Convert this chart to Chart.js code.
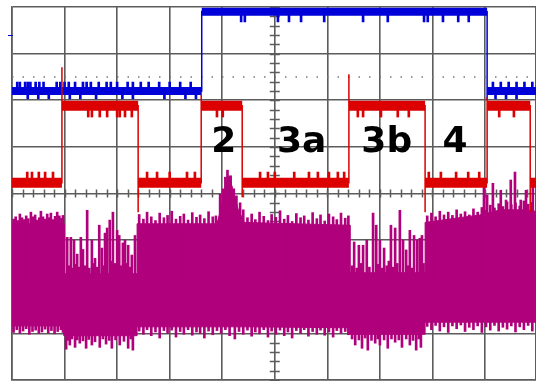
<!DOCTYPE html>
<html>
<head>
<meta charset="utf-8">
<script src="https://cdn.jsdelivr.net/npm/chart.js@4.4.1/dist/chart.umd.min.js"></script>
<style>
  html, body { margin: 0; padding: 0; background: #fff; }
  #wrap { width: 536px; height: 381px; position: relative; }
</style>
</head>
<body>
<div id="wrap"><canvas id="scope"></canvas></div>
<script>
// screen is 10 x 8 divisions, values are in divisions
const xMax = 9.97;

// channel 1 (blue)
const blueLow = 2.2, blueHigh = 3.9;
const blueEdges = [3.61, 9.04];
const blueTips = [3.92, 2.0];
const blueUpX = [0.1, 0.15, 0.25, 0.3, 0.35, 0.45, 0.52, 0.6, 0.85, 0.92, 1.0, 1.08, 1.2, 1.35, 1.42, 1.5, 1.65, 1.8, 1.88, 2.0, 2.2, 2.3, 2.45, 2.6, 2.8, 3.0, 3.2, 3.4, 9.15, 9.3, 9.45, 9.6, 9.75, 9.9];
const blueDownX = [0.3, 0.5, 0.7, 1.1, 1.3, 1.6, 2.1, 2.3, 2.9, 3.3, 3.5, 9.2, 9.4, 9.6];
const blueHighDownX = [4.36, 4.43, 5.06, 5.27, 5.5, 5.94, 6.68, 7.15, 7.84, 7.91, 8.2, 8.49, 8.69];

// channel 2 (red)
const redLow = 0.23, redHigh = 1.88;
const redEdges = [0.95, 2.40, 3.60, 4.38, 6.41, 7.86, 9.04, 9.86];
const redTips = [2.71, -0.40, 2.11, -0.08, 2.56, -0.40, 2.07, -0.40];
const redHighDownX = [1.45, 1.52, 1.67, 1.81, 2.0, 2.05, 2.15, 2.28, 3.9, 4.01, 6.58, 6.68, 7.02, 7.34, 7.55, 9.27, 9.55];
const redLowUpX = [0.29, 0.38, 0.51, 0.63, 0.78, 2.57, 2.76, 3.0, 3.33, 3.48, 4.72, 4.87, 5.0, 5.37, 5.65, 5.82, 6.03, 6.2, 6.32, 7.93, 8.16, 8.45, 8.68, 8.89];

// channel 3 (magenta) envelope
const magX      = [0, 0.99, 0.99, 2.38, 2.38, 3.90, 4.00, 4.08, 4.13, 4.20, 4.30, 4.42, 6.43, 6.43, 7.86, 7.86, 8.90, 9.30, 9.70, 9.97];
const magTop    = [-0.65, -0.65, -1.72, -1.72, -0.65, -0.65, -0.22, 0.2, 0.38, 0.1, -0.33, -0.62, -0.68, -1.70, -1.70, -0.62, -0.46, -0.35, -0.35, -0.38];
const magBottom = [-2.84, -2.84, -3.05, -3.05, -2.86, -2.86, -2.86, -2.86, -2.86, -2.86, -2.86, -2.86, -2.88, -3.02, -3.02, -2.76, -2.76, -2.76, -2.76, -2.76];

// magenta spikes [x, tip]
const magUpA = [[0.03,-0.55],[0.07,-0.50],[0.11,-0.58],[0.15,-0.44],[0.19,-0.52],[0.23,-0.56],[0.27,-0.48],[0.31,-0.54],[0.36,-0.40],[0.40,-0.50],[0.44,-0.46],[0.48,-0.57],[0.52,-0.52],[0.55,-0.38],[0.59,-0.50],[0.63,-0.55],[0.67,-0.44],[0.71,-0.52],[0.74,-0.42],[0.78,-0.56],[0.82,-0.49],[0.86,-0.40],[0.90,-0.48],[0.94,-0.53],[0.97,-0.47]];
const magUpB = [[1.05,-0.94],[1.08,-1.55],[1.12,-0.94],[1.15,-1.6],[1.18,-1.0],[1.21,-1.52],[1.24,-1.3],[1.28,-1.58],[1.31,-0.94],[1.35,-1.2],[1.39,-1.55],[1.43,-0.36],[1.47,-1.6],[1.52,-1.0],[1.55,-1.5],[1.58,-1.39],[1.62,-1.58],[1.66,-0.68],[1.71,-1.17],[1.74,-1.55],[1.77,-0.85],[1.81,-0.74],[1.86,-0.57],[1.89,-1.45],[1.92,-0.40],[1.96,-1.5],[2.00,-0.79],[2.04,-0.9],[2.08,-1.55],[2.11,-1.06],[2.15,-1.0],[2.18,-1.5],[2.21,-1.11],[2.25,-1.58],[2.28,-1.32],[2.34,-0.9]];
const magUpC = [[2.42,-0.45],[2.50,-0.55],[2.57,-0.40],[2.65,-0.50],[2.73,-0.58],[2.81,-0.42],[2.89,-0.52],[2.96,-0.47],[3.04,-0.38],[3.12,-0.55],[3.20,-0.49],[3.27,-0.44],[3.35,-0.57],[3.43,-0.41],[3.51,-0.51],[3.58,-0.46],[3.66,-0.54],[3.74,-0.39],[3.82,-0.50],[3.88,-0.48],
  [3.96,0.0],[4.02,0.1],[4.06,0.35],[4.10,0.5],[4.16,0.38],[4.22,0.1],[4.27,-0.05],[4.34,-0.2],[4.40,-0.35],
  [4.48,-0.52],[4.56,-0.44],[4.63,-0.56],[4.71,-0.40],[4.79,-0.49],[4.87,-0.58],[4.94,-0.45],[5.02,-0.51],[5.10,-0.37],[5.18,-0.55],[5.25,-0.47],[5.33,-0.60],[5.41,-0.43],[5.49,-0.52],[5.56,-0.48],[5.64,-0.57],[5.72,-0.41],[5.80,-0.54],[5.87,-0.46],[5.95,-0.59],[6.03,-0.44],[6.11,-0.50],[6.18,-0.56],[6.26,-0.42],[6.34,-0.53],[6.40,-0.48]];
const magUpD = [[6.47,-1.55],[6.51,-1.04],[6.56,-1.6],[6.60,-1.11],[6.64,-1.5],[6.68,-1.11],[6.75,-1.0],[6.80,-1.58],[6.87,-0.42],[6.93,-0.68],[6.97,-1.52],[7.00,-1.0],[7.04,-1.6],[7.08,-1.17],[7.13,-1.55],[7.17,-1.45],[7.21,-0.68],[7.25,-1.58],[7.29,-0.74],[7.33,-1.5],[7.38,-0.36],[7.44,-1.0],[7.50,-1.21],[7.53,-1.55],[7.57,-0.79],[7.61,-1.6],[7.65,-0.9],[7.71,-1.0],[7.76,-0.96],[7.80,-0.9],[7.83,-1.5]];
const magUpE = [[7.90,-0.48],[7.98,-0.42],[8.06,-0.50],[8.14,-0.38],[8.22,-0.46],[8.30,-0.40],[8.38,-0.47],[8.46,-0.35],[8.54,-0.44],[8.62,-0.39],[8.70,-0.46],[8.78,-0.33],[8.86,-0.40],[8.94,-0.30],[9.02,-0.36],[9.10,-0.25],[9.18,-0.31],[9.26,-0.22],[9.34,-0.28],[9.42,-0.18],[9.50,-0.24],[9.58,-0.20],[9.66,-0.27],[9.74,-0.16],[9.82,-0.23],[9.90,-0.19],
  [8.98,0.29],[9.04,-0.03],[9.15,0.22],[9.30,0.07],[9.40,-0.14],[9.49,0.29],[9.57,0.46],[9.68,-0.14],[9.78,0.07],[9.84,-0.36],[9.91,0.29]];
const magDownA = [[0.03,-2.98],[0.09,-2.92],[0.15,-3.0],[0.21,-2.95],[0.27,-2.9],[0.33,-3.02],[0.39,-2.96],[0.45,-2.93],[0.51,-3.0],[0.57,-2.97],[0.63,-2.91],[0.69,-2.99],[0.75,-2.94],[0.81,-3.01],[0.87,-2.96],[0.93,-2.92],[0.97,-2.98]];
const magDownB = [[1.03,-3.34],[1.06,-3.15],[1.10,-3.25],[1.14,-3.12],[1.20,-3.30],[1.24,-3.14],[1.29,-3.21],[1.35,-3.16],[1.41,-3.32],[1.46,-3.13],[1.52,-3.25],[1.58,-3.18],[1.67,-3.30],[1.73,-3.12],[1.79,-3.23],[1.85,-3.15],[1.90,-3.32],[1.97,-3.14],[2.05,-3.25],[2.13,-3.17],[2.21,-3.32],[2.26,-3.12],[2.30,-3.36]];
const magDownC = [[2.42,-2.95],[2.50,-3.02],[2.57,-2.92],[2.65,-3.05],[2.73,-2.97],[2.81,-3.1],[2.89,-2.94],[2.96,-3.0],[3.04,-2.93],[3.12,-3.08],[3.20,-2.96],[3.27,-3.02],[3.35,-2.92],[3.43,-3.04],[3.51,-2.97],[3.58,-3.0],[3.66,-3.1],[3.74,-2.95],[3.82,-3.03],[3.90,-2.94],[3.98,-3.0],[4.06,-2.92],[4.14,-3.05],[4.24,-3.12],[4.32,-2.96],[4.40,-3.02],[4.48,-2.93],[4.56,-3.06],[4.63,-2.97],[4.71,-3.01],[4.79,-2.92],[4.87,-3.08],[4.94,-2.95],[5.02,-3.02],[5.10,-2.93],[5.18,-3.05],[5.25,-2.97],[5.33,-3.1],[5.41,-2.94],[5.49,-3.0],[5.56,-2.92],[5.64,-3.06],[5.72,-2.96],[5.80,-3.02],[5.87,-2.93],[5.95,-3.04],[6.03,-2.97],[6.11,-3.08],[6.18,-2.94],[6.26,-3.0],[6.34,-2.96],[6.40,-3.03]];
const magDownD = [[6.47,-3.12],[6.53,-3.25],[6.60,-3.14],[6.66,-3.32],[6.72,-3.1],[6.77,-3.36],[6.84,-3.15],[6.91,-3.21],[6.96,-3.12],[7.0,-3.25],[7.08,-3.14],[7.15,-3.32],[7.22,-3.12],[7.29,-3.19],[7.36,-3.14],[7.42,-3.30],[7.50,-3.12],[7.57,-3.25],[7.63,-3.15],[7.69,-3.36],[7.74,-3.12],[7.78,-3.30]];
const magDownE = [[7.90,-2.85],[7.98,-2.92],[8.06,-2.83],[8.14,-2.95],[8.22,-2.86],[8.30,-2.98],[8.38,-2.84],[8.46,-2.9],[8.54,-2.82],[8.62,-2.96],[8.70,-2.87],[8.78,-2.92],[8.86,-2.84],[8.94,-2.98],[9.02,-2.86],[9.10,-2.93],[9.18,-2.83],[9.26,-2.95],[9.34,-2.87],[9.42,-2.91],[9.50,-2.84],[9.58,-2.97],[9.66,-2.86],[9.74,-2.92],[9.82,-2.83],[9.90,-2.95]];

const triggerLevel = 2.5;
const blueMarker = 3.4;
const labels = ['2', '3a', '3b', '4'];
const labelX = [4.03, 5.51, 7.13, 8.43];
const labelY = 0.89;

const BLUE = '#0000d8', RED = '#dc0000', MAG = '#b0007c', GRID = '#5c5c5c';

function tracePath(low, high, edges, tips) {
  const pts = [{x: 0, y: low}];
  let level = low;
  edges.forEach((e, i) => {
    pts.push({x: e, y: level});
    pts.push({x: e, y: tips[i]});
    level = level === low ? high : low;
    pts.push({x: e, y: level});
  });
  pts.push({x: xMax, y: level});
  return pts;
}

function bandSegments(low, high, edges) {
  const pts = [];
  const bounds = [0, ...edges, xMax];
  let level = low;
  for (let i = 0; i < bounds.length - 1; i++) {
    pts.push({x: bounds[i], y: level}, {x: bounds[i + 1], y: level}, {x: bounds[i + 1], y: null});
    level = level === low ? high : low;
  }
  return pts;
}

function ticks(xs, base, tip) {
  return xs.map(x => ({x: x, y: [base, tip]}));
}

function pairs(list, base) {
  return list.map(p => ({x: p[0], y: [base, p[1]]}));
}

function spikeSet(data, color, w) {
  return {type: 'bar', data: data, backgroundColor: color, borderWidth: 0, barThickness: w || 2, grouped: false};
}

const overlay = {
  id: 'overlay',
  beforeDatasetsDraw(chart) {
    const {ctx, scales: {x, y}} = chart;
    ctx.save();
    ctx.strokeStyle = GRID;
    ctx.lineWidth = 1.5;
    const cx = x.getPixelForValue(5), cy = y.getPixelForValue(0);
    ctx.beginPath();
    for (let v = -4; v <= 4.001; v += 0.2) {
      const py = Math.round(y.getPixelForValue(v)) + 0.5;
      ctx.moveTo(cx - 5, py); ctx.lineTo(cx + 5, py);
    }
    for (let v = 0; v <= xMax; v += 0.2) {
      const px = Math.round(x.getPixelForValue(v)) + 0.5;
      ctx.moveTo(px, cy - 4); ctx.lineTo(px, cy + 4);
    }
    ctx.stroke();
    ctx.restore();
  },
  afterDatasetsDraw(chart) {
    const {ctx, scales: {x, y}} = chart;
    ctx.save();
    ctx.fillStyle = '#000';
    ctx.font = 'bold 36px "DejaVu Sans"';
    ctx.textAlign = 'center';
    ctx.textBaseline = 'alphabetic';
    labels.forEach((t, i) => ctx.fillText(t, x.getPixelForValue(labelX[i]), y.getPixelForValue(labelY)));
    // channel 1 marker at left edge
    const my = Math.round(y.getPixelForValue(blueMarker)) + 0.5;
    ctx.strokeStyle = BLUE;
    ctx.lineWidth = 1;
    ctx.beginPath();
    ctx.moveTo(x.left - 4, my); ctx.lineTo(x.left + 1, my);
    ctx.stroke();
    ctx.restore();
  }
};

const magUp = [...magUpA, ...magUpB, ...magUpC, ...magUpD, ...magUpE];
const magDown = [...magDownA, ...magDownB, ...magDownC, ...magDownD, ...magDownE];

const datasets = [
  {data: tracePath(redLow, redHigh, redEdges, redTips), borderColor: RED, borderWidth: 1.5, pointRadius: 0},
  {data: bandSegments(redLow, redHigh, redEdges), borderColor: RED, borderWidth: 10, borderCapStyle: 'butt', pointRadius: 0, spanGaps: false},
  spikeSet(ticks(redHighDownX, redHigh, 1.64), RED),
  spikeSet(ticks(redLowUpX, redLow, 0.46), RED),
  {data: tracePath(blueLow, blueHigh, blueEdges, blueTips), borderColor: BLUE, borderWidth: 1.5, pointRadius: 0},
  {data: bandSegments(blueLow, blueHigh, blueEdges), borderColor: BLUE, borderWidth: 8, borderCapStyle: 'butt', pointRadius: 0, spanGaps: false},
  spikeSet(ticks(blueUpX, blueLow, 2.39), BLUE),
  spikeSet(ticks(blueDownX, blueLow, 2.03), BLUE),
  spikeSet(ticks(blueHighDownX, blueHigh, 3.68), BLUE),
  spikeSet(pairs(magUp, -1.9), MAG),
  spikeSet(pairs(magDown, -2.6), MAG),
  {data: magX.map((x, i) => ({x: x, y: magTop[i]})), borderColor: MAG, borderWidth: 1, backgroundColor: MAG, fill: '+1', pointRadius: 0},
  {data: magX.map((x, i) => ({x: x, y: magBottom[i]})), borderColor: MAG, borderWidth: 1, pointRadius: 0},
  {data: [{x: 0, y: triggerLevel}, {x: xMax, y: triggerLevel}], borderColor: '#777', borderWidth: 1.5, borderDash: [1.5, 9], pointRadius: 0}
];

new Chart(document.getElementById('scope'), {
  type: 'line',
  data: {datasets: datasets},
  options: {
    animation: false,
    responsive: true,
    maintainAspectRatio: false,
    layout: {padding: {left: 12, top: 7, right: 0, bottom: 1}},
    plugins: {legend: {display: false}, tooltip: {enabled: false}},
    scales: {
      x: {
        type: 'linear', min: 0, max: xMax, offset: false,
        ticks: {display: false, stepSize: 1},
        grid: {color: GRID, lineWidth: 1.6, drawTicks: false, offset: false},
        border: {color: GRID, width: 1.6}
      },
      y: {
        type: 'linear', min: -4, max: 4,
        ticks: {display: false, stepSize: 1},
        grid: {color: GRID, lineWidth: 1.6, drawTicks: false},
        border: {color: GRID, width: 1.6}
      }
    }
  },
  plugins: [overlay]
});
</script>
</body>
</html>
